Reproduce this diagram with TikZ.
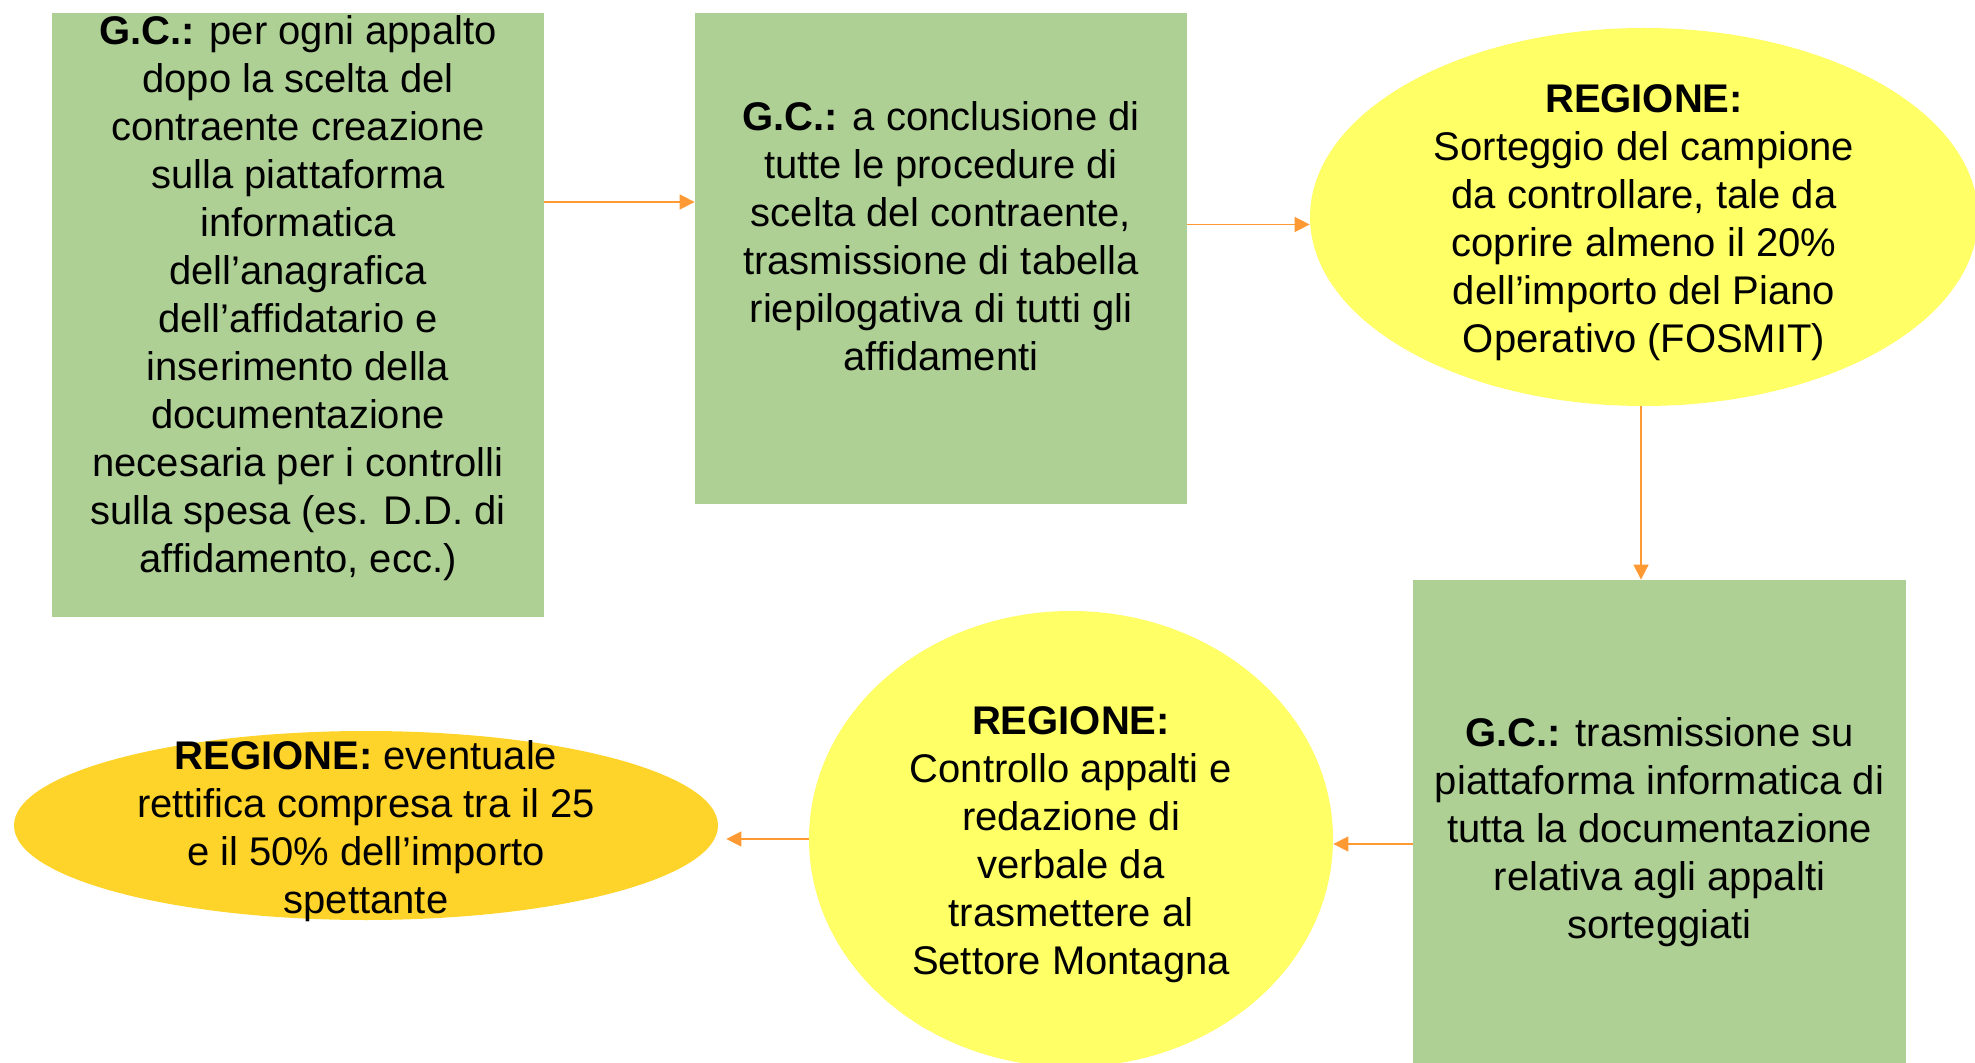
\documentclass[tikz,border=0pt]{standalone}
\usepackage{fontspec}
\setmainfont{Liberation Sans}
\usetikzlibrary{positioning, arrows.meta, shapes.geometric}
\definecolor{gcgreen}{HTML}{AFD095}
\definecolor{regyellow}{HTML}{FFFF66}
\definecolor{retgold}{HTML}{FFD42A}
\definecolor{flowor}{HTML}{FF9933}
\tikzset{
  gcbox/.style={
    rectangle,
    fill=gcgreen,
    inner sep=0pt,
    minimum width=246pt
  },
  regione/.style={
    ellipse,
    fill=regyellow,
    inner sep=0pt
  },
  txt/.style={
    align=center,
    inner sep=0pt,
    font=\fontsize{20}{24}\selectfont
  },
  flow/.style={
    draw=flowor,
    line width=0.8pt,
    -{Triangle[length=7.5pt, width=7.5pt]}
  }
}

\begin{document}
\begin{tikzpicture}[x=0.5pt, y=-0.5pt]
    \useasboundingbox (0,0) rectangle (1975,1063);
    \clip (0,0) rectangle (1975,1063);

    \node[gcbox, minimum height=302pt] (b1) at (298,315) {};
    \node[txt] (t1) at ([yshift=8.5pt]b1.center) {\textbf{G.C.:} per ogni appalto\\
      dopo la scelta del\\ contraente creazione\\ sulla piattaforma\\
      informatica\\ dell’anagrafica\\ dell’affidatario e\\ inserimento della\\
      documentazione\\ necesaria per i controlli\\ sulla spesa (es. D.D. di\\
      affidamento, ecc.)};

    \node[gcbox, minimum height=245.5pt] (b2) at (941,258.5) {};
    \node[txt] (t2) at ([yshift=11pt]b2.center) {\textbf{G.C.:} a conclusione di\\
      tutte le procedure di\\ scelta del contraente,\\ trasmissione di tabella\\
      riepilogativa di tutti gli\\ affidamenti};

    \node[regione, minimum width=334pt, minimum height=189pt] (e1) at (1644,217) {};
    \node[txt] (t3) at ([yshift=-3pt]e1.center) {\textbf{REGIONE:}\\ Sorteggio del campione\\
      da controllare, tale da\\ coprire almeno il 20\%\\ dell’importo del Piano\\
      Operativo (FOSMIT)};

    \node[gcbox, minimum width=246.5pt, minimum height=246pt] (b3) at (1659.5,826) {};
    \node[txt] (t4) at ([yshift=-3pt]b3.center) {\textbf{G.C.:} trasmissione su\\
      piattaforma informatica di\\ tutta la documentazione\\ relativa agli appalti\\
      sorteggiati};

    \node[regione, minimum width=262pt, minimum height=228pt] (e2) at (1071,839) {};
    \node[txt] (t5) at ([yshift=-3pt]e2.center) {\textbf{REGIONE:}\\ Controllo appalti e\\
      redazione di\\ verbale da\\ trasmettere al\\ Settore Montagna};

    \node[regione, fill=retgold, minimum width=352pt, minimum height=94.5pt] (e3) at (366,825.5) {};
    \node[txt] (t6) at ([yshift=-3pt]e3.center) {\textbf{REGIONE:} eventuale\\
      rettifica compresa tra il 25\\ e il 50\% dell’importo\\ spettante};

    % frecce
    \draw[flow] ([yshift=56.5pt]b1.east) -- ([yshift=56.5pt]b1.east -| b2.west);
    \draw[flow] ([yshift=17pt]b2.east) -- ([yshift=17pt]b2.east -| e1.west);
    \draw[flow] ([xshift=-1.5pt]e1.south) -- ([xshift=-1.5pt]e1.south |- b3.north);
    \draw[flow] ([yshift=-9pt]b3.west) -- ([yshift=-9pt]b3.west -| e2.east);
    \draw[flow, shorten >=4pt] (e2.west) -- (e2.west -| e3.east);
\end{tikzpicture}
\end{document}
